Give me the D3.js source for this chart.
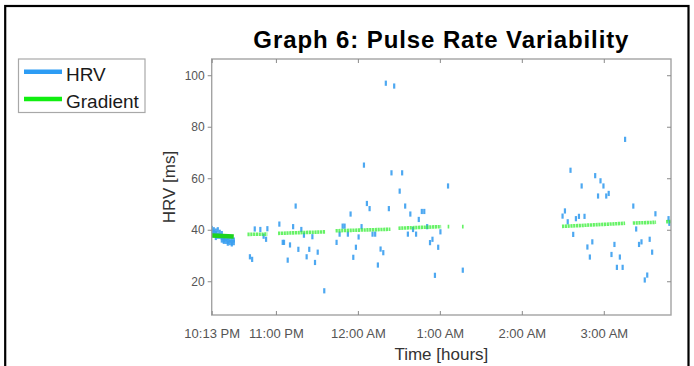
<!DOCTYPE html>
<html>
<head>
<meta charset="utf-8">
<script src="https://cdn.jsdelivr.net/npm/d3@7"></script>
<style>
  html, body { margin: 0; padding: 0; background: #fff; }
  svg { display: block; font-family: "Liberation Sans", Arial, Helvetica, sans-serif; }
</style>
</head>
<body>
<svg id="chart" width="694" height="366"></svg>
<script>
// ---- Data (time in hours relative to midnight; negative = PM of previous day) ----
const title = "Graph 6: Pulse Rate Variability";
const xLabel = "Time [hours]";
const yLabel = "HRV [ms]";
const seriesNames = ["HRV", "Gradient"];

const xTickValues = [-1.7833, -1, 0, 1, 2, 3];
const xTickLabels = ["10:13 PM", "11:00 PM", "12:00 AM", "1:00 AM", "2:00 AM", "3:00 AM"];
const yTickValues = [20, 40, 60, 80, 100];

const hrvTime = [
  -1.782, -1.782, -1.782, -1.758, -1.758, -1.758, -1.733, -1.733, -1.733,
  -1.709, -1.709, -1.709, -1.685, -1.685, -1.660, -1.660, -1.660,
  -1.636, -1.636, -1.636, -1.611, -1.611, -1.587, -1.587, -1.587,
  -1.563, -1.563, -1.538, -1.538, -1.538, -1.514, -1.514,
  -1.317, -1.29, -1.258, -1.19, -1.15, -1.12, -1.104, -0.958, -0.917, -0.901,
  -0.856, -0.828, -0.79, -0.759, -0.726, -0.69, -0.658, -0.625, -0.593, -0.555,
  -0.523, -0.49, -0.41, -0.26, -0.223, -0.186, -0.162, -0.122, -0.089, -0.056,
  -0.024, 0.009, 0.045, 0.074, 0.11, 0.143, 0.179, 0.211, 0.244, 0.277, 0.31,
  0.341, 0.378, 0.41, 0.443, 0.51, 0.54, 0.577, 0.61, 0.64, 0.673, 0.71, 0.743,
  0.78, 0.81, 0.845, 0.88, 0.91, 0.94, 0.98, 1.007, 1.10, 1.28,
  2.497, 2.526, 2.56, 2.594, 2.627, 2.66, 2.697, 2.73, 2.765, 2.8, 2.83, 2.86,
  2.895, 2.93, 2.96, 2.996, 3.03, 3.06, 3.094, 3.13, 3.16, 3.196, 3.23, 3.26,
  3.36, 3.395, 3.43, 3.46, 3.5, 3.53, 3.56, 3.59, 3.63, 3.79, 3.80
];
const hrvValue = [
  40.5, 39.5, 38.5, 40, 39, 38, 39.5, 38.5, 37,
  40, 38, 37.5, 39, 37.5, 38.5, 37, 36,
  37, 36, 35.5, 36.5, 35.5, 37, 35.5, 34.8,
  36, 35, 36.5, 35, 34.5, 36, 35,
  29.5, 28.5, 40.3, 40.1, 37.5, 36.3, 40.4, 42.2, 35.1, 35.1,
  28.2, 34.1, 41.2, 49.2, 32.4, 40.1, 37.9, 29.5, 32.4, 37.3,
  27.3, 31.3, 16.3, 35.1, 38.3, 41.4, 41.4, 38.3, 46.1, 29.3,
  33.2, 37.2, 41.2, 65.1, 50.2, 48.2, 38.3, 38.3, 26.3, 32.5, 31.1,
  96.9, 48.2, 62.1, 95.8, 55, 62.1, 49.2, 38.3, 46.1, 40.1, 38.3, 44,
  47.1, 47.1, 41.2, 35, 36.3, 22.3, 33.2, 39.2, 57, 24.3,
  45.3, 47.3, 43.1, 63.1, 38.2, 44.3, 45.2, 57, 45.2, 33.3, 29.4, 35.3,
  61, 53.1, 59, 57, 53.1, 54.1, 30.4, 34.3, 25.4, 29.4, 25.4, 75.1,
  49.2, 40.3, 34.3, 35.3, 20.5, 22.4, 36.3, 31.3, 46.2, 44.3, 42.5
];

// Gradient: fitted-trend segments (start/end time, start/end value)
const gradStartTime = [-1.782, -1.347, -0.974, -0.272, 0.495, 1.095, 1.27, 2.49, 3.354, 3.76];
const gradEndTime   = [-1.514, -1.104, -0.393, 0.397, 1.016, 1.115, 1.29, 3.26, 3.638, 3.82];
const gradStartVal  = [37.8, 38.2, 38.6, 39.6, 40.6, 41.2, 41.2, 41.3, 42.6, 43.1];
const gradEndVal    = [37.4, 38.3, 39.2, 40.2, 41.2, 41.2, 41.2, 42.5, 42.9, 43.2];

// ---- Layout ----
const svg = d3.select("#chart");
const plot = { left: 211.7, right: 671, top: 59, bottom: 315 };

const x = d3.scaleLinear().domain([-1.7833, 3.82]).range([plot.left, plot.right]);
const y = d3.scaleLinear().domain([6.9, 106.3]).range([plot.bottom, plot.top]);

// Outer figure frame
svg.append("rect")
  .attr("x", 5.2).attr("y", 6).attr("width", 683.3).attr("height", 420)
  .attr("fill", "none").attr("stroke", "#000").attr("stroke-width", 2.2);

// Title
svg.append("text")
  .attr("x", (plot.left + plot.right) / 2).attr("y", 48)
  .attr("text-anchor", "middle")
  .attr("font-size", 24).attr("font-weight", "bold").attr("fill", "#000")
  .attr("letter-spacing", 0.9)
  .text(title);

// Clip
svg.append("clipPath").attr("id", "clip")
  .append("rect").attr("x", plot.left).attr("y", plot.top)
  .attr("width", plot.right - plot.left).attr("height", plot.bottom - plot.top);

const marks = svg.append("g").attr("clip-path", "url(#clip)");

// HRV markers (short vertical bars)
marks.append("g").selectAll("rect")
  .data(hrvTime.map((t, i) => ({ t, v: hrvValue[i] })))
  .join("rect")
  .attr("x", d => x(d.t) - 1.1)
  .attr("y", d => y(d.v) - 2.6)
  .attr("width", 2.2).attr("height", 5.2)
  .attr("fill", "#3a9ff0").attr("fill-opacity", 0.9);

// Gradient segments
marks.append("g").selectAll("line")
  .data(gradStartTime.map((t, i) => ({ t0: t, t1: gradEndTime[i], v0: gradStartVal[i], v1: gradEndVal[i], i })))
  .join("line")
  .attr("x1", d => x(d.t0)).attr("x2", d => x(d.t1))
  .attr("y1", d => y(d.v0)).attr("y2", d => y(d.v1))
  .attr("stroke", d => d.i === 0 ? "#1ed31e" : "#33ee33")
  .attr("stroke-opacity", d => d.i === 0 ? 1 : 0.75)
  .attr("stroke-width", d => d.i === 0 ? 4.5 : 3.6)
  .attr("stroke-dasharray", d => d.i === 0 ? null : "2.2 0.6");

// Axes box
const axisColor = "#a3a3a3";
svg.append("rect")
  .attr("x", plot.left).attr("y", plot.top)
  .attr("width", plot.right - plot.left).attr("height", plot.bottom - plot.top)
  .attr("fill", "none").attr("stroke", axisColor).attr("stroke-width", 1.4);

// Bottom axis (ticks inside)
const xAxis = d3.axisBottom(x).tickValues(xTickValues)
  .tickFormat((d, i) => xTickLabels[i]).tickSizeInner(-4).tickSizeOuter(0).tickPadding(14);
const gx = svg.append("g").attr("transform", `translate(0,${plot.bottom})`).call(xAxis);
gx.select(".domain").remove();
gx.selectAll(".tick line").attr("stroke", "#8a8a8a");
gx.selectAll(".tick text").attr("font-size", 13).attr("fill", "#555")
  .attr("font-family", "'Liberation Sans', Arial, sans-serif");

// Top axis ticks (inside)
const gxt = svg.append("g").attr("transform", `translate(0,${plot.top})`)
  .call(d3.axisTop(x).tickValues(xTickValues).tickFormat("").tickSizeInner(-4).tickSizeOuter(0));
gxt.select(".domain").remove();
gxt.selectAll(".tick line").attr("stroke", "#8a8a8a");

// Left axis (ticks outside)
const yAxis = d3.axisLeft(y).tickValues(yTickValues).tickSizeInner(4).tickSizeOuter(0).tickPadding(3);
const gy = svg.append("g").attr("transform", `translate(${plot.left},0)`).call(yAxis);
gy.select(".domain").remove();
gy.selectAll(".tick line").attr("stroke", "#8a8a8a");
gy.selectAll(".tick text").attr("font-size", 12).attr("fill", "#555")
  .attr("font-family", "'Liberation Sans', Arial, sans-serif");

// Right axis ticks (inside)
const gyr = svg.append("g").attr("transform", `translate(${plot.right},0)`)
  .call(d3.axisRight(y).tickValues(yTickValues).tickFormat("").tickSizeInner(-4).tickSizeOuter(0));
gyr.select(".domain").remove();
gyr.selectAll(".tick line").attr("stroke", "#8a8a8a");

// Axis labels
svg.append("text")
  .attr("x", (plot.left + plot.right) / 2).attr("y", 360)
  .attr("text-anchor", "middle").attr("font-size", 17).attr("fill", "#333")
  .text(xLabel);
svg.append("text")
  .attr("transform", `translate(174.5,${(plot.top + plot.bottom) / 2}) rotate(-90)`)
  .attr("text-anchor", "middle").attr("font-size", 17).attr("fill", "#333")
  .text(yLabel);

// Legend
const legend = svg.append("g");
legend.append("rect")
  .attr("x", 18.5).attr("y", 59).attr("width", 126.5).attr("height", 53.5)
  .attr("fill", "#fff").attr("stroke", "#a8a8a8").attr("stroke-width", 1.2);
const legendColors = ["#2d9cf4", "#11ee11"];
const legendY = [71.7, 99];
seriesNames.forEach((name, i) => {
  legend.append("line")
    .attr("x1", 24).attr("x2", 62).attr("y1", legendY[i]).attr("y2", legendY[i])
    .attr("stroke", legendColors[i]).attr("stroke-width", 4.5);
  legend.append("text")
    .attr("x", 66).attr("y", legendY[i] + 9.3)
    .attr("font-size", 19).attr("fill", "#1a1a1a")
    .text(name);
});
</script>
</body>
</html>
